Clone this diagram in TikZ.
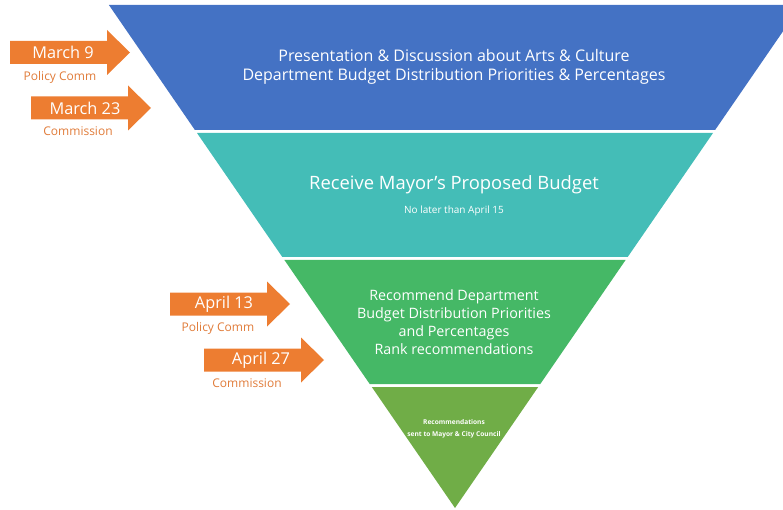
\documentclass[tikz,border=0pt]{standalone}
\usepackage{fontspec}
\setmainfont{Open Sans}
\definecolor{bandblue}{HTML}{4472C4}
\definecolor{bandteal}{HTML}{44BDB7}
\definecolor{bandgreen}{HTML}{45B866}
\definecolor{bandolive}{HTML}{70AD47}
\definecolor{dateorange}{HTML}{ED7D31}
\definecolor{notetext}{HTML}{E07B39}
\tikzset{
  bandtext/.style={text=white, align=center, inner sep=0pt},
  datetext/.style={text=white, inner sep=0pt, font=\fontsize{16.3}{18}\selectfont},
  bodytext/.style={text=notetext, inner sep=0pt, font=\fontsize{12}{14}\selectfont},
  pics/datearrow/.style={code={
    \fill[dateorange] (0,-11.5) -- (97,-11.5) -- (97,-22.5) -- (120,0)
      -- (97,22.5) -- (97,11.5) -- (0,11.5) -- cycle;
  }}
}
\begin{document}
\begin{tikzpicture}[x=1pt, y=-1pt]
      \useasboundingbox (0,0) rectangle (783,510);
      \clip (0,0) rectangle (783,510);
      % funnel bands
      \fill[bandblue]  (108.9,5) -- (801.1,5) -- (715.1,130) -- (194.9,130) -- cycle;
      \fill[bandteal]  (197,133) -- (713,133) -- (627.7,257) -- (282.3,257) -- cycle;
      \fill[bandgreen] (284.4,260) -- (625.6,260) -- (540.3,384) -- (369.7,384) -- cycle;
      \fill[bandolive] (371.8,387) -- (538.2,387) -- (455,508) -- cycle;
      % band texts
      \node[bandtext, font=\fontsize{16}{19}\selectfont] (present) at (454,67)
        {Presentation \& Discussion about Arts \& Culture\\
         Department Budget Distribution Priorities \& Percentages};
      \node[bandtext, font=\fontsize{18.4}{20}\selectfont] (receive) at (454,185)
        {Receive Mayor’s Proposed Budget};
      \node[bandtext, font=\fontsize{10}{11}\selectfont] (nolater) at (454,211)
        {No later than April 15};
      \node[bandtext, font=\fontsize{14.3}{18}\selectfont] (recommend) at (454,322)
        {Recommend Department\\ Budget Distribution Priorities\\
         and Percentages\\ Rank recommendations};
      \node[bandtext, font=\fontsize{6.6}{11.5}\selectfont\bfseries] (sent) at (454,429)
        {Recommendations\\ sent to Mayor \& City Council};
      % date arrows
      \pic at (10,52.5) {datearrow};
      \pic at (31,108) {datearrow};
      \pic at (170,304) {datearrow};
      \pic at (204,360) {datearrow};
      \node[datetext] (march9) at (63,52.5) {March 9};
      \node[datetext] (march23) at (85,108) {March 23};
      \node[datetext] (april13) at (224,304) {April 13};
      \node[datetext] (april27) at (261,360) {April 27};
      \node[bodytext] (policy1) at (60,77) {Policy Comm};
      \node[bodytext] (commission1) at (78,131) {Commission};
      \node[bodytext] (policy2) at (218,328) {Policy Comm};
      \node[bodytext] (commission2) at (247,383) {Commission};
    \end{tikzpicture}
\end{document}
